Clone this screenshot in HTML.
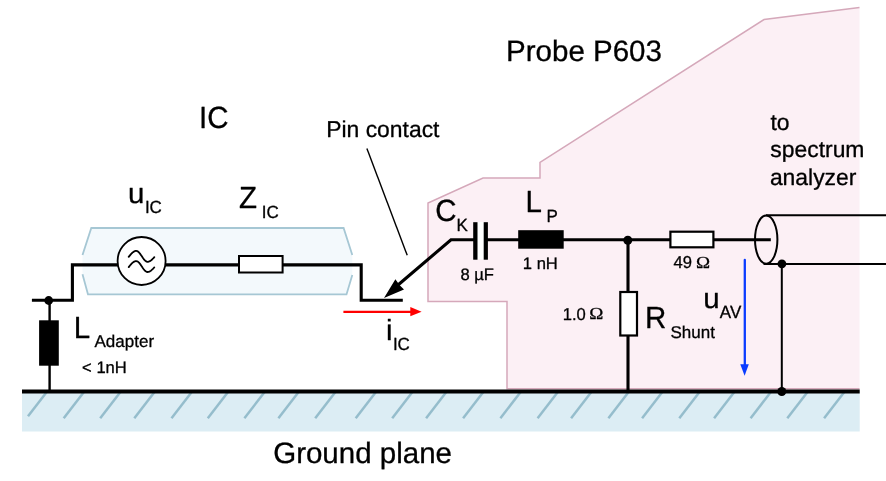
<!DOCTYPE html>
<html><head><meta charset="utf-8"><style>
html,body{margin:0;padding:0;background:#fff;}
svg{display:block;will-change:transform;}
text{font-family:"Liberation Sans",sans-serif;fill:#000;stroke:#000;stroke-width:0.3px;stroke-linejoin:round;text-rendering:geometricPrecision;}
.b{font-size:29.5px}.m{font-size:22.9px}.s{font-size:16.6px}.t{font-size:17px}.o{font-family:"Liberation Serif",serif;font-size:16.8px}
</style></head><body>
<svg width="886" height="481" viewBox="0 0 886 481">
<!-- ground plane -->
<rect x="22" y="391" width="837.7" height="40.5" fill="#dcedf4"/>
<g stroke="#95bdcc" stroke-width="2.5"><line x1="47.5" y1="391" x2="28.0" y2="416.3"/><line x1="84.7" y1="391" x2="63.7" y2="418.2"/><line x1="121.2" y1="391" x2="100.2" y2="418.2"/><line x1="155.3" y1="391" x2="134.3" y2="418.2"/><line x1="192.5" y1="391" x2="171.5" y2="418.2"/><line x1="228.8" y1="391" x2="207.8" y2="418.2"/><line x1="265.4" y1="391" x2="244.4" y2="418.2"/><line x1="299.4" y1="391" x2="278.4" y2="418.2"/><line x1="336.2" y1="391" x2="315.2" y2="418.2"/><line x1="376.7" y1="391" x2="355.7" y2="418.2"/><line x1="413.2" y1="391" x2="392.2" y2="418.2"/><line x1="447.1" y1="391" x2="426.1" y2="418.2"/><line x1="484.1" y1="391" x2="463.1" y2="418.2"/><line x1="521.4" y1="391" x2="500.4" y2="418.2"/><line x1="558.6" y1="391" x2="537.6" y2="418.2"/><line x1="592.1" y1="391" x2="571.1" y2="418.2"/><line x1="629.4" y1="391" x2="608.4" y2="418.2"/><line x1="663.1" y1="391" x2="642.1" y2="418.2"/><line x1="700.3" y1="391" x2="679.3" y2="418.2"/><line x1="735.1" y1="391" x2="714.1" y2="418.2"/><line x1="771.6" y1="391" x2="750.6" y2="418.2"/><line x1="808.3" y1="391" x2="787.3" y2="418.2"/><line x1="845.1" y1="391" x2="824.1" y2="418.2"/></g>
<!-- probe region -->
<polygon points="428,203 483,178 540,178 540,162.4 764,19.5 859.5,7.5 859.5,389 507,389 507,301.4 428,301.4" fill="#fcf0f5"/>
<polyline points="859.5,7.5 764,19.5 540,162.4 540,178 483,178 428,203 428,301.4 507,301.4 507,388.8 859.5,388.8" fill="none" stroke="#d5a8ba" stroke-width="1.5"/>
<!-- IC package -->
<polygon points="91.3,228 343.6,228 352.3,255 352.3,275 346.5,294.4 88,294.4 82.5,274.2 82.5,255" fill="#f3f9fc"/>
<g stroke="#a6c7d4" stroke-width="1.8" fill="none">
<polyline points="82.5,255 91.3,228 343.6,228 352.3,255"/>
<polyline points="82.5,274.2 88,294.4 346.5,294.4 352.3,275"/>
</g>
<!-- ground line -->
<line x1="22" y1="391.4" x2="859.7" y2="391.4" stroke="#000" stroke-width="4"/>
<!-- wires -->
<g stroke="#000" stroke-width="3.1" fill="none">
<polyline points="31.9,300.3 72.4,300.3 72.4,264.9 361.2,264.9 361.2,300.3 402.8,300.3"/>
<line x1="49.6" y1="300.3" x2="49.6" y2="391" stroke-width="2.4"/>
<polyline points="398,285 451,239.8 770.8,239.8"/>
<line x1="628" y1="239.8" x2="628" y2="391"/>
</g>
<g stroke="#000" stroke-width="2" fill="none">
<line x1="781.8" y1="264" x2="781.8" y2="391"/>
<line x1="766" y1="215.2" x2="886" y2="215.2"/>
<line x1="763.5" y1="264.1" x2="886" y2="264.1"/>
</g>
<ellipse cx="766.2" cy="239.6" rx="11.2" ry="24.1" fill="none" stroke="#000" stroke-width="2"/>
<line x1="366.9" y1="148.5" x2="407.2" y2="255.2" stroke="#000" stroke-width="1.4"/>
<!-- arrowhead -->
<polygon points="384,297.9 395.4,279.3 399.5,285 404,289.6" fill="#000"/>
<!-- dots -->
<circle cx="48.7" cy="300.5" r="4.4" fill="#000"/>
<circle cx="627.8" cy="240.2" r="4.5" fill="#000"/>
<circle cx="781.9" cy="263.8" r="4.4" fill="#000"/>
<circle cx="781.8" cy="391.5" r="4.5" fill="#000"/>
<!-- L adapter -->
<rect x="39.1" y="320.3" width="19.7" height="45.4" fill="#000"/>
<!-- generator -->
<circle cx="141.6" cy="261" r="24" fill="#fff" stroke="#000" stroke-width="1.8"/>
<path d="M128.70,256.90 L129.32,256.12 L129.95,255.35 L130.57,254.60 L131.20,253.90 L131.82,253.25 L132.45,252.66 L133.07,252.14 L133.70,251.70 L134.32,251.36 L134.95,251.10 L135.57,250.95 L136.20,250.90 L137.14,251.09 L138.08,251.63 L139.02,252.50 L139.97,253.62 L140.91,254.94 L141.85,256.35 L142.79,257.76 L143.73,259.07 L144.68,260.20 L145.62,261.07 L146.56,261.61 L147.50,261.80 L148.07,261.76 L148.63,261.64 L149.20,261.45 L149.77,261.18 L150.33,260.85 L150.90,260.45 L151.47,260.00 L152.03,259.50 L152.60,258.96 L153.17,258.39 L153.73,257.80 L154.30,257.20" fill="none" stroke="#000" stroke-width="1.8" stroke-linecap="round" stroke-linejoin="round"/>
<path d="M128.70,267.10 L129.32,266.32 L129.95,265.55 L130.57,264.80 L131.20,264.10 L131.82,263.45 L132.45,262.86 L133.07,262.34 L133.70,261.90 L134.32,261.56 L134.95,261.30 L135.57,261.15 L136.20,261.10 L137.14,261.29 L138.08,261.83 L139.02,262.70 L139.97,263.82 L140.91,265.14 L141.85,266.55 L142.79,267.96 L143.73,269.27 L144.68,270.40 L145.62,271.27 L146.56,271.81 L147.50,272.00 L148.07,271.96 L148.63,271.84 L149.20,271.65 L149.77,271.38 L150.33,271.05 L150.90,270.65 L151.47,270.20 L152.03,269.70 L152.60,269.16 L153.17,268.59 L153.73,268.00 L154.30,267.40" fill="none" stroke="#000" stroke-width="1.8" stroke-linecap="round" stroke-linejoin="round"/>
<!-- Z_IC resistor -->
<rect x="239" y="256" width="43.6" height="16.5" fill="#fff" stroke="#000" stroke-width="2"/>
<!-- capacitor -->
<rect x="477" y="222" width="7" height="37.3" fill="#fff"/>
<rect x="473.2" y="222.2" width="4.3" height="37.5" fill="#000"/>
<rect x="483.7" y="222.2" width="4.2" height="37.5" fill="#000"/>
<!-- L_P -->
<rect x="518.2" y="230.2" width="45.5" height="18.5" fill="#000"/>
<!-- 49 ohm -->
<rect x="670.4" y="231.7" width="43" height="15.6" fill="#fff" stroke="#000" stroke-width="2.2"/>
<!-- shunt -->
<rect x="620.3" y="292" width="16.7" height="43.5" fill="#fff" stroke="#000" stroke-width="2.2"/>
<!-- red arrow -->
<line x1="343.4" y1="311.85" x2="411" y2="311.85" stroke="#ff0000" stroke-width="2.3"/>
<polygon points="421.6,311.85 410.3,307.1 410.3,316.2" fill="#ff0000"/>
<!-- blue arrow -->
<line x1="744.8" y1="260" x2="744.8" y2="365" stroke="#0a3cff" stroke-width="2.3" stroke-linecap="round"/>
<polygon points="740.3,364.2 748.8,364.2 744.6,375.8" fill="#0a3cff"/>
<!-- texts -->
<text class="b" x="506.1" y="60.6">Probe P603</text>
<text class="b" transform="translate(199.1,127.8) scale(1,1.04)">IC</text>
<text class="m" x="326.2" y="136.9">Pin contact</text>
<text class="m" x="770.5" y="129.5">to</text>
<text class="m" x="770.3" y="157.2">spectrum</text>
<text class="m" x="769.9" y="185.1">analyzer</text>
<text class="b" transform="translate(128.1,202.7) scale(1,0.97)">u</text><text class="t" transform="translate(144.9,212.8) scale(1,1.04)">IC</text>
<text class="b" transform="translate(238.9,207.8) scale(1,1.04)">Z</text><text class="t" transform="translate(261.8,217.8) scale(1,1.04)">IC</text>
<text class="b" transform="translate(435.3,220.9) scale(1,1.04)">C</text><text class="t" transform="translate(456.4,230.7) scale(1,1.04)">K</text>
<text class="b" transform="translate(525.5,212.1) scale(1,1.04)">L</text><text class="t" transform="translate(546.6,222) scale(1,1.04)">P</text>
<text class="s" x="460.4" y="279.5">8 µF</text>
<text class="s" x="522.8" y="269">1 nH</text>
<text class="s" transform="translate(673.5,267.8) scale(1,1.04)">49</text><text class="o" x="695.9" y="268" textLength="14.1" lengthAdjust="spacingAndGlyphs">Ω</text>
<text class="s" transform="translate(562.7,319.5) scale(1,1.04)">1.0</text><text class="o" x="589.3" y="318.9" textLength="14.1" lengthAdjust="spacingAndGlyphs">Ω</text>
<text class="b" transform="translate(645.1,327.9) scale(1,1.04)">R</text><text class="t" x="670.5" y="337.6">Shunt</text>
<text class="b" transform="translate(703.2,307.9) scale(1,0.97)">u</text><text class="t" transform="translate(719.8,317.9) scale(1,1.04)">AV</text>
<text class="b" transform="translate(73.7,337.9) scale(1,1.04)">L</text><text class="t" x="94.5" y="346.9">Adapter</text>
<text class="s" x="82.1" y="372.8">&lt; 1nH</text>
<text class="b" transform="translate(385.9,340) scale(1,0.988)">i</text><text class="t" transform="translate(392.9,349.9) scale(1,1.04)">IC</text>
<text class="b" x="273.2" y="462.5">Ground plane</text>
</svg>
</body></html>
